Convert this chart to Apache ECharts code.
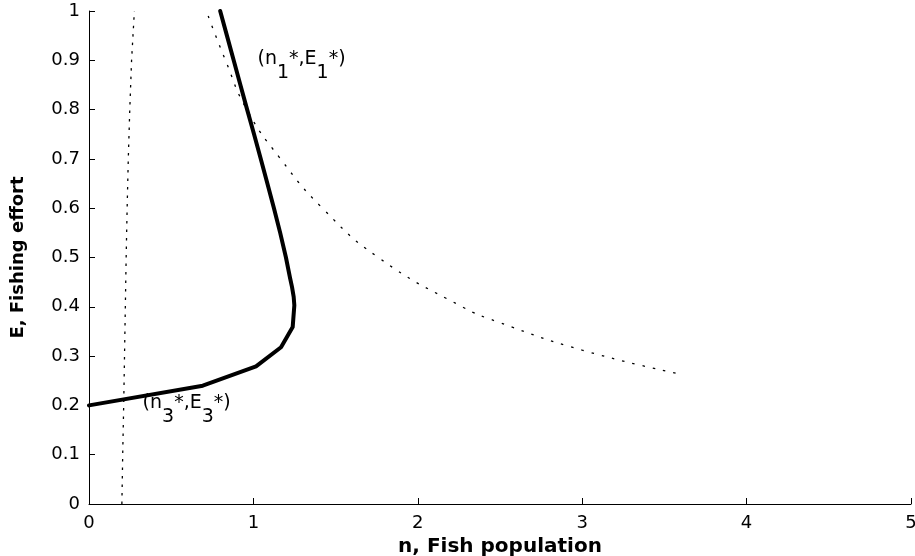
<!DOCTYPE html>
<html>
<head>
<meta charset="utf-8">
<script src="https://cdn.jsdelivr.net/npm/echarts@6/dist/echarts.min.js"></script>
<style>
html,body{margin:0;padding:0;background:#fff;}
#chart{width:915px;height:556px;}
</style>
</head>
<body>
<div id="chart"></div>
<script>
// Nullcline of fish population (vertical dotted line): [n, E]
const verticalDotted = [[0.2,0],[0.205,0.1],[0.211,0.2],[0.216,0.3],[0.221,0.4],[0.226,0.5],[0.232,0.6],[0.239,0.7],[0.248,0.8],[0.259,0.9],[0.276,1.0]];
// Curved dotted nullcline: [n, E]
const curveDotted = [[0.725,0.99],[0.83,0.9],[0.96,0.8],[1.165,0.7],[1.42,0.6],[1.76,0.5],[2.27,0.4],[2.49,0.369],[3.0,0.312],[3.59,0.264]];
// Solid curve: [n, E]
const solidCurve = [[0,0.2],[0.692,0.24],[1.016,0.279],[1.168,0.318],[1.239,0.359],[1.249,0.403],[1.245,0.42],[1.235,0.44],[1.222,0.46],[1.198,0.5],[1.163,0.55],[1.125,0.6],[1.085,0.65],[1.045,0.7],[1.004,0.75],[0.962,0.8],[0.921,0.85],[0.88,0.9],[0.839,0.95],[0.798,1.0]];
// Annotations: label anchor [n, E] and subscript
const annotations = [
  {pos:[1.025,0.888], sub:'1'},
  {pos:[0.326,0.19], sub:'3'}
];
const xTicks = {min:0, max:5, interval:1};
const yTicks = {min:0, max:1, interval:0.1};

const chart = echarts.init(document.getElementById('chart'), null, {renderer:'canvas'});
const font = 'DejaVu Sans, Liberation Sans, Arial, sans-serif';
const labelRich = {
  t:{fontSize:19, fontFamily:font, color:'#000', lineHeight:19, verticalAlign:'top'},
  s:{fontSize:19, fontFamily:font, color:'#000', lineHeight:33, verticalAlign:'bottom'}
};
chart.setOption({
  animation:false,
  backgroundColor:'#fff',
  grid:{left:89, right:4, top:11, bottom:52, containLabel:false, outerBoundsMode:'none'},
  xAxis:{
    type:'value', min:xTicks.min, max:xTicks.max, interval:xTicks.interval,
    name:'n, Fish population', nameLocation:'middle', nameGap:29,
    nameTextStyle:{fontFamily:font, fontSize:20, fontWeight:'bold', color:'#000'},
    axisLine:{show:true, lineStyle:{color:'#000', width:1}},
    axisTick:{show:true, inside:true, length:6, lineStyle:{color:'#000'}},
    axisLabel:{fontFamily:font, fontSize:18, color:'#000', margin:10, showMaxLabel:true},
    splitLine:{show:false}
  },
  yAxis:{
    type:'value', min:yTicks.min, max:yTicks.max, interval:yTicks.interval,
    name:'E, Fishing effort', nameLocation:'middle', nameGap:62, nameRotate:90,
    nameTextStyle:{fontFamily:font, fontSize:18, fontWeight:'bold', color:'#000'},
    axisLine:{show:true, lineStyle:{color:'#000', width:1}},
    axisTick:{show:true, inside:true, length:6, lineStyle:{color:'#000'}},
    axisLabel:{fontFamily:font, fontSize:18, color:'#000', margin:9,
      formatter:v=>String(Math.round(v*10)/10)},
    splitLine:{show:false}
  },
  series:[
    {type:'line', data:verticalDotted, showSymbol:false, symbol:'none', smooth:false,
     lineStyle:{color:'#000', width:1.3, type:[2.5,6]}},
    {type:'line', data:curveDotted, showSymbol:false, symbol:'none', smooth:true,
     lineStyle:{color:'#000', width:1.3, type:[2.5,8]}},
    {type:'line', data:solidCurve, showSymbol:false, symbol:'none', smooth:false,
     lineStyle:{color:'#000', width:4, join:'round', cap:'round'}},
    {type:'scatter', symbolSize:0, silent:true, itemStyle:{opacity:1},
     data:annotations.map(a=>({value:a.pos, sub:a.sub})),
     label:{show:true, position:'right', distance:0, color:'#000', opacity:1,
       formatter:p=>'{t|(n}{s|'+p.data.sub+'}{t|*,E}{s|'+p.data.sub+'}{t|*)}',
       rich:labelRich}}
  ]
});
</script>
</body>
</html>
